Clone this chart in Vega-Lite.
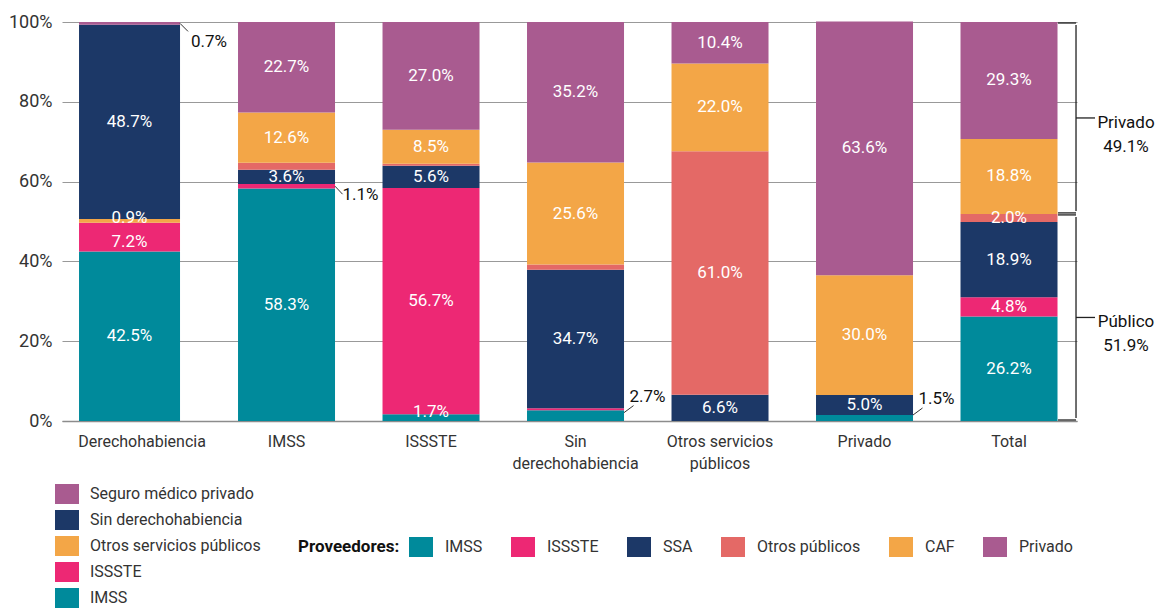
{
  "$schema": "https://vega.github.io/schema/vega-lite/v6.json",
  "width": 1015,
  "height": 399,
  "autosize": "none",
  "padding": {"left": 62, "top": 22, "right": 80, "bottom": 187},
  "background": "white",
  "datasets": {
    "der": [
      {"cat": "Derechohabiencia", "tipo": "IMSS", "k": 1, "v": 42.5, "lbl": "in"},
      {"cat": "Derechohabiencia", "tipo": "ISSSTE", "k": 2, "v": 7.2, "lbl": "inlo"},
      {"cat": "Derechohabiencia", "tipo": "Otros servicios públicos", "k": 3, "v": 0.9, "lbl": "inhi"},
      {"cat": "Derechohabiencia", "tipo": "Sin derechohabiencia", "k": 4, "v": 48.7, "lbl": "in"},
      {"cat": "Derechohabiencia", "tipo": "Seguro médico privado", "k": 5, "v": 0.7, "lbl": "up"}
    ],
    "prov": [
      {"cat": "IMSS", "prov": "IMSS", "k": 1, "v": 58.3, "lbl": "in"},
      {"cat": "IMSS", "prov": "ISSSTE", "k": 2, "v": 1.1, "lbl": "up"},
      {"cat": "IMSS", "prov": "SSA", "k": 3, "v": 3.6, "lbl": "in"},
      {"cat": "IMSS", "prov": "Otros públicos", "k": 4, "v": 1.7, "lbl": "no"},
      {"cat": "IMSS", "prov": "CAF", "k": 5, "v": 12.6, "lbl": "in"},
      {"cat": "IMSS", "prov": "Privado", "k": 6, "v": 22.7, "lbl": "in"},
      {"cat": "ISSSTE", "prov": "IMSS", "k": 1, "v": 1.7, "lbl": "inhi"},
      {"cat": "ISSSTE", "prov": "ISSSTE", "k": 2, "v": 56.7, "lbl": "in"},
      {"cat": "ISSSTE", "prov": "SSA", "k": 3, "v": 5.6, "lbl": "in"},
      {"cat": "ISSSTE", "prov": "Otros públicos", "k": 4, "v": 0.5, "lbl": "no"},
      {"cat": "ISSSTE", "prov": "CAF", "k": 5, "v": 8.5, "lbl": "in"},
      {"cat": "ISSSTE", "prov": "Privado", "k": 6, "v": 27.0, "lbl": "in"},
      {"cat": "Sin derechohabiencia", "prov": "IMSS", "k": 1, "v": 2.7, "lbl": "down"},
      {"cat": "Sin derechohabiencia", "prov": "ISSSTE", "k": 2, "v": 0.5, "lbl": "no"},
      {"cat": "Sin derechohabiencia", "prov": "SSA", "k": 3, "v": 34.7, "lbl": "in"},
      {"cat": "Sin derechohabiencia", "prov": "Otros públicos", "k": 4, "v": 1.3, "lbl": "no"},
      {"cat": "Sin derechohabiencia", "prov": "CAF", "k": 5, "v": 25.6, "lbl": "in"},
      {"cat": "Sin derechohabiencia", "prov": "Privado", "k": 6, "v": 35.2, "lbl": "in"},
      {"cat": "Otros servicios públicos", "prov": "SSA", "k": 3, "v": 6.6, "lbl": "in"},
      {"cat": "Otros servicios públicos", "prov": "Otros públicos", "k": 4, "v": 61.0, "lbl": "in"},
      {"cat": "Otros servicios públicos", "prov": "CAF", "k": 5, "v": 22.0, "lbl": "in"},
      {"cat": "Otros servicios públicos", "prov": "Privado", "k": 6, "v": 10.4, "lbl": "in"},
      {"cat": "Privado", "prov": "IMSS", "k": 1, "v": 1.5, "lbl": "down"},
      {"cat": "Privado", "prov": "SSA", "k": 3, "v": 5.0, "lbl": "in"},
      {"cat": "Privado", "prov": "CAF", "k": 5, "v": 30.0, "lbl": "in"},
      {"cat": "Privado", "prov": "Privado", "k": 6, "v": 63.6, "lbl": "in"},
      {"cat": "Total", "prov": "IMSS", "k": 1, "v": 26.2, "lbl": "in"},
      {"cat": "Total", "prov": "ISSSTE", "k": 2, "v": 4.8, "lbl": "in"},
      {"cat": "Total", "prov": "SSA", "k": 3, "v": 18.9, "lbl": "in"},
      {"cat": "Total", "prov": "Otros públicos", "k": 4, "v": 2.0, "lbl": "in"},
      {"cat": "Total", "prov": "CAF", "k": 5, "v": 18.8, "lbl": "in"},
      {"cat": "Total", "prov": "Privado", "k": 6, "v": 29.3, "lbl": "in"}
    ],
    "br": [
      {"cat": "Total", "lo": 51.9, "hi": 100, "lab": "Privado\n49.1%"},
      {"cat": "Total", "lo": 0, "hi": 51.9, "lab": "Público\n51.9%"}
    ]
  },
  "encoding": {
    "x": {
      "field": "cat",
      "type": "nominal",
      "scale": {
        "domain": ["Derechohabiencia", "IMSS", "ISSSTE", "Sin derechohabiencia", "Otros servicios públicos", "Privado", "Total"],
        "paddingInner": 0.3287,
        "paddingOuter": 0.1765,
        "align": 0.618
      },
      "axis": {
        "title": null,
        "domainColor": "#8c8c8c",
        "domainWidth": 1.5,
        "ticks": false,
        "labelAngle": 0,
        "labelFontSize": 16,
        "labelColor": "#333333",
        "labelPadding": 12,
        "labelBaseline": "top",
        "labelLineHeight": 22,
        "labelDx": 5,
        "labelExpr": "datum.value == 'Sin derechohabiencia' ? ['Sin', 'derechohabiencia'] : datum.value == 'Otros servicios públicos' ? ['Otros servicios', 'públicos'] : datum.value"
      }
    }
  },
  "layer": [
    {
      "data": {"name": "der"},
      "mark": {"type": "bar", "width": 101, "xOffset": -12.5},
      "encoding": {
        "y": {
          "field": "v",
          "type": "quantitative",
          "stack": "zero",
          "scale": {"domain": [0, 100], "nice": false},
          "axis": {
            "title": null,
            "values": [0, 20, 40, 60, 80, 100],
            "labelExpr": "datum.value + '%'",
            "grid": true,
            "gridColor": "#999999",
            "gridWidth": 1.2,
            "domain": false,
            "ticks": false,
            "labelFontSize": 18,
            "labelColor": "#333333",
            "labelPadding": 10
          }
        },
        "color": {
          "field": "tipo",
          "type": "nominal",
          "scale": {
            "domain": ["Seguro médico privado", "Sin derechohabiencia", "Otros servicios públicos", "ISSSTE", "IMSS"],
            "range": ["#A95B90", "#1C3867", "#F3A647", "#ED2874", "#008A9B"]
          },
          "legend": {
            "title": null,
            "orient": "none",
            "legendX": -5,
            "legendY": 462,
            "direction": "vertical",
            "symbolType": "M-1.2,-1H1.2V1H-1.2Z",
            "symbolSize": 400,
            "symbolStrokeWidth": 0,
            "symbolOpacity": 1,
            "labelFontSize": 16,
            "labelColor": "#333333",
            "labelOffset": 13,
            "labelLimit": 300,
            "rowPadding": 6,
            "padding": 0
          }
        },
        "order": {"field": "k", "type": "quantitative"}
      }
    },
    {
      "data": {"name": "der"},
      "transform": [
        {"stack": "v", "groupby": ["cat"], "sort": [{"field": "k"}], "as": ["y0", "y1"]},
        {"calculate": "(datum.y0 + datum.y1) / 2", "as": "mid"},
        {"calculate": "format(datum.v, '.1f') + '%'", "as": "t"},
        {"filter": "datum.lbl == 'in'"}
      ],
      "mark": {"type": "text", "color": "white", "fontSize": 17, "xOffset": -12.5, "baseline": "middle"},
      "encoding": {
        "y": {"field": "mid", "type": "quantitative", "axis": null},
        "text": {"field": "t"}
      }
    },
    {
      "data": {"name": "der"},
      "transform": [
        {"stack": "v", "groupby": ["cat"], "sort": [{"field": "k"}], "as": ["y0", "y1"]},
        {"calculate": "(datum.y0 + datum.y1) / 2", "as": "mid"},
        {"calculate": "format(datum.v, '.1f') + '%'", "as": "t"},
        {"filter": "datum.lbl == 'inhi'"}
      ],
      "mark": {"type": "text", "color": "white", "fontSize": 17, "xOffset": -12.5, "baseline": "middle", "dy": -3},
      "encoding": {
        "y": {"field": "mid", "type": "quantitative", "axis": null},
        "text": {"field": "t"}
      }
    },
    {
      "data": {"name": "der"},
      "transform": [
        {"stack": "v", "groupby": ["cat"], "sort": [{"field": "k"}], "as": ["y0", "y1"]},
        {"calculate": "(datum.y0 + datum.y1) / 2", "as": "mid"},
        {"calculate": "format(datum.v, '.1f') + '%'", "as": "t"},
        {"filter": "datum.lbl == 'inlo'"}
      ],
      "mark": {"type": "text", "color": "white", "fontSize": 17, "xOffset": -12.5, "baseline": "middle", "dy": 5},
      "encoding": {
        "y": {"field": "mid", "type": "quantitative", "axis": null},
        "text": {"field": "t"}
      }
    },
    {
      "data": {"name": "der"},
      "transform": [
        {"stack": "v", "groupby": ["cat"], "sort": [{"field": "k"}], "as": ["y0", "y1"]},
        {"calculate": "(datum.y0 + datum.y1) / 2", "as": "mid"},
        {"filter": "datum.lbl == 'up'"}
      ],
      "mark": {"type": "rule", "xOffset": 38, "x2Offset": 46, "y2Offset": 8, "color": "#333333", "strokeWidth": 1},
      "encoding": {
        "x2": {"field": "cat"},
        "y": {"field": "mid", "type": "quantitative", "axis": null},
        "y2": {"field": "mid"}
      }
    },
    {
      "data": {"name": "der"},
      "transform": [
        {"stack": "v", "groupby": ["cat"], "sort": [{"field": "k"}], "as": ["y0", "y1"]},
        {"calculate": "(datum.y0 + datum.y1) / 2", "as": "mid"},
        {"calculate": "format(datum.v, '.1f') + '%'", "as": "t"},
        {"filter": "datum.lbl == 'up'"}
      ],
      "mark": {"type": "text", "color": "#111111", "fontSize": 17, "align": "left", "baseline": "middle", "dx": 49, "dy": 19},
      "encoding": {
        "y": {"field": "mid", "type": "quantitative", "axis": null},
        "text": {"field": "t"}
      }
    },
    {
      "data": {"name": "prov"},
      "mark": {"type": "bar"},
      "encoding": {
        "y": {"field": "v", "type": "quantitative", "stack": "zero", "axis": null},
        "color": {
          "field": "prov",
          "type": "nominal",
          "scale": {
            "domain": ["IMSS", "ISSSTE", "SSA", "Otros públicos", "CAF", "Privado"],
            "range": ["#008A9B", "#ED2874", "#1C3867", "#E46966", "#F3A647", "#A95B90"]
          },
          "legend": {
            "title": "Proveedores:",
            "titleOrient": "left",
            "titleFontSize": 17,
            "titleFontWeight": "bold",
            "titleColor": "#111111",
            "titlePadding": 11,
            "titleBaseline": "middle",
            "orient": "none",
            "legendX": 236,
            "legendY": 515,
            "direction": "horizontal",
            "symbolType": "M-1.2,-1H1.2V1H-1.2Z",
            "symbolSize": 400,
            "symbolStrokeWidth": 0,
            "symbolOpacity": 1,
            "labelFontSize": 16,
            "labelColor": "#333333",
            "labelOffset": 14,
            "labelLimit": 300,
            "columnPadding": 28,
            "padding": 0
          }
        },
        "order": {"field": "k", "type": "quantitative"}
      }
    },
    {
      "data": {"name": "prov"},
      "transform": [
        {"stack": "v", "groupby": ["cat"], "sort": [{"field": "k"}], "as": ["y0", "y1"]},
        {"calculate": "(datum.y0 + datum.y1) / 2", "as": "mid"},
        {"calculate": "format(datum.v, '.1f') + '%'", "as": "t"},
        {"filter": "datum.lbl == 'in'"}
      ],
      "mark": {"type": "text", "color": "white", "fontSize": 17, "baseline": "middle"},
      "encoding": {
        "y": {"field": "mid", "type": "quantitative", "axis": null},
        "text": {"field": "t"}
      }
    },
    {
      "data": {"name": "prov"},
      "transform": [
        {"stack": "v", "groupby": ["cat"], "sort": [{"field": "k"}], "as": ["y0", "y1"]},
        {"calculate": "(datum.y0 + datum.y1) / 2", "as": "mid"},
        {"calculate": "format(datum.v, '.1f') + '%'", "as": "t"},
        {"filter": "datum.lbl == 'inhi'"}
      ],
      "mark": {"type": "text", "color": "white", "fontSize": 17, "baseline": "middle", "dy": -6},
      "encoding": {
        "y": {"field": "mid", "type": "quantitative", "axis": null},
        "text": {"field": "t"}
      }
    },
    {
      "data": {"name": "prov"},
      "transform": [
        {"stack": "v", "groupby": ["cat"], "sort": [{"field": "k"}], "as": ["y0", "y1"]},
        {"calculate": "(datum.y0 + datum.y1) / 2", "as": "mid"},
        {"filter": "datum.lbl == 'up'"}
      ],
      "mark": {"type": "rule", "xOffset": 48.5, "x2Offset": 56, "y2Offset": 8, "color": "#333333", "strokeWidth": 1},
      "encoding": {
        "x2": {"field": "cat"},
        "y": {"field": "mid", "type": "quantitative", "axis": null},
        "y2": {"field": "mid"}
      }
    },
    {
      "data": {"name": "prov"},
      "transform": [
        {"stack": "v", "groupby": ["cat"], "sort": [{"field": "k"}], "as": ["y0", "y1"]},
        {"calculate": "(datum.y0 + datum.y1) / 2", "as": "mid"},
        {"calculate": "format(datum.v, '.1f') + '%'", "as": "t"},
        {"filter": "datum.lbl == 'up'"}
      ],
      "mark": {"type": "text", "color": "#111111", "fontSize": 17, "align": "left", "baseline": "middle", "dx": 56, "dy": 9},
      "encoding": {
        "y": {"field": "mid", "type": "quantitative", "axis": null},
        "text": {"field": "t"}
      }
    },
    {
      "data": {"name": "prov"},
      "transform": [
        {"stack": "v", "groupby": ["cat"], "sort": [{"field": "k"}], "as": ["y0", "y1"]},
        {"calculate": "(datum.y0 + datum.y1) / 2", "as": "mid"},
        {"filter": "datum.lbl == 'down'"}
      ],
      "mark": {"type": "rule", "xOffset": 48.5, "x2Offset": 58, "yOffset": -3, "y2Offset": -10, "color": "#333333", "strokeWidth": 1},
      "encoding": {
        "x2": {"field": "cat"},
        "y": {"field": "mid", "type": "quantitative", "axis": null},
        "y2": {"field": "mid"}
      }
    },
    {
      "data": {"name": "prov"},
      "transform": [
        {"stack": "v", "groupby": ["cat"], "sort": [{"field": "k"}], "as": ["y0", "y1"]},
        {"calculate": "(datum.y0 + datum.y1) / 2", "as": "mid"},
        {"calculate": "format(datum.v, '.1f') + '%'", "as": "t"},
        {"filter": "datum.lbl == 'down'"}
      ],
      "mark": {"type": "text", "color": "#111111", "fontSize": 17, "align": "left", "baseline": "middle", "dx": 54, "dy": -19},
      "encoding": {
        "y": {"field": "mid", "type": "quantitative", "axis": null},
        "text": {"field": "t"}
      }
    },
    {
      "data": {"name": "br"},
      "mark": {"type": "rule", "xOffset": 67, "yOffset": -3, "y2Offset": 3, "color": "#222222", "strokeWidth": 1.3},
      "encoding": {
        "y": {"field": "lo", "type": "quantitative", "axis": null},
        "y2": {"field": "hi"}
      }
    },
    {
      "data": {"name": "br"},
      "mark": {"type": "rule", "xOffset": 49, "x2Offset": 67, "yOffset": 1, "color": "#222222", "strokeWidth": 1.3},
      "encoding": {
        "x2": {"field": "cat"},
        "y": {"field": "hi", "type": "quantitative", "axis": null}
      }
    },
    {
      "data": {"name": "br"},
      "mark": {"type": "rule", "xOffset": 49, "x2Offset": 67, "yOffset": -1, "color": "#222222", "strokeWidth": 1.3},
      "encoding": {
        "x2": {"field": "cat"},
        "y": {"field": "lo", "type": "quantitative", "axis": null}
      }
    },
    {
      "data": {"name": "br"},
      "transform": [{"calculate": "(datum.lo + datum.hi) / 2", "as": "mid"}],
      "mark": {"type": "rule", "xOffset": 67, "x2Offset": 86, "color": "#222222", "strokeWidth": 1.3},
      "encoding": {
        "x2": {"field": "cat"},
        "y": {"field": "mid", "type": "quantitative", "axis": null}
      }
    },
    {
      "data": {"name": "br"},
      "transform": [{"calculate": "(datum.lo + datum.hi) / 2", "as": "mid"}],
      "mark": {"type": "text", "color": "#111111", "fontSize": 17, "align": "center", "baseline": "middle", "dx": 117, "dy": 5, "lineBreak": "\n", "lineHeight": 24},
      "encoding": {
        "y": {"field": "mid", "type": "quantitative", "axis": null},
        "text": {"field": "lab"}
      }
    }
  ],
  "resolve": {"scale": {"color": "independent"}, "axis": {"y": "independent"}},
  "config": {
    "font": "Roboto",
    "view": {"stroke": null}
  }
}
